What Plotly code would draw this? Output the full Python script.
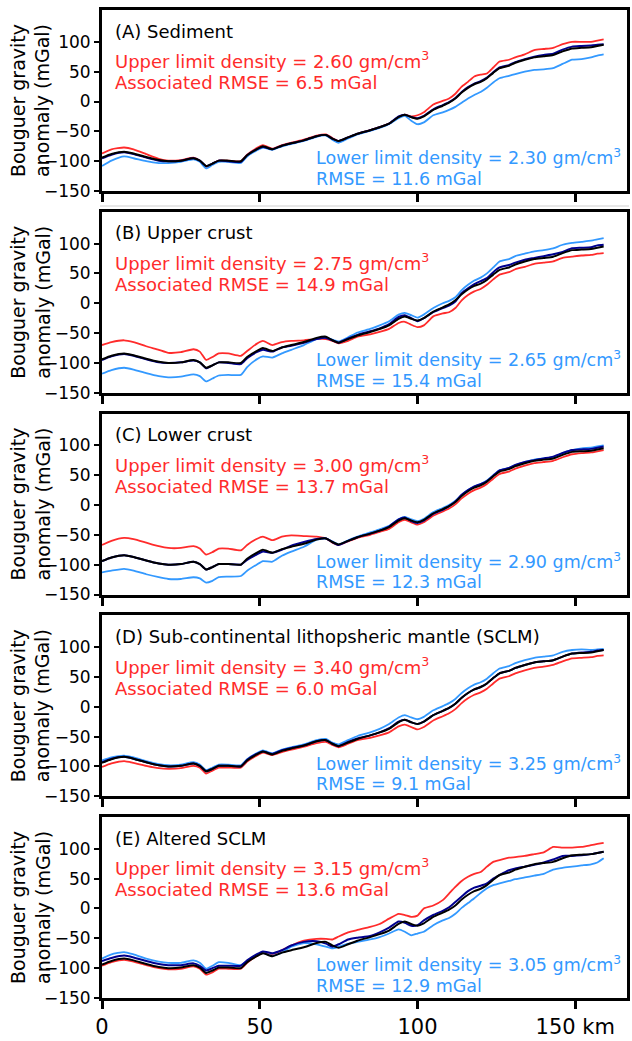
import plotly.graph_objects as go

# Distance along the profile (km)
DIST_KM = [0, 3, 7, 10, 14, 18, 21, 25, 29, 31,
           33, 35, 37, 40, 44, 46, 49, 51, 54, 57,
           60, 64, 68, 71, 73, 75, 78, 81, 85, 88,
           91, 94, 96, 98, 100, 102, 105, 108, 110, 112,
           114, 116, 118, 120, 122, 124, 126, 129, 131, 134,
           137, 140, 143, 146, 149, 152, 155, 157, 159]

# Observed Bouguer anomaly (mGal), shared by all panels
OBSERVED = [-94, -88, -84, -87, -93, -98, -100, -99, -95, -99,
            -108, -104, -99, -99, -100, -90, -80, -75, -80, -74,
            -70, -65, -58, -56, -62, -66, -60, -54, -48, -43,
            -37, -26, -22, -26, -29, -25, -14, -7, -2, 5,
            15, 23, 29, 33, 39, 48, 56, 60, 65, 70,
            74, 76, 78, 84, 89, 90, 91, 93, 95]

# (A) Sediment
MODEL_A = [-95, -89, -85, -88, -94, -99, -100, -99, -95, -99,
           -108, -104, -99, -100, -101, -90, -80, -76, -80, -74,
           -70, -65, -58, -56, -62, -66, -60, -54, -48, -43,
           -37, -25, -22, -26, -28, -24, -13, -6, -1, 6,
           16, 24, 30, 34, 40, 49, 57, 61, 66, 71,
           75, 78, 80, 87, 92, 93, 94, 95, 96]
UPPER_A = [-87, -80, -77, -80, -88, -96, -99, -98, -94, -99,
           -110, -104, -99, -99, -100, -89, -78, -73, -79, -73,
           -69, -64, -57, -55, -61, -66, -60, -54, -48, -43,
           -37, -26, -22, -25, -23, -18, -5, 1, 5, 13,
           25, 33, 42, 45, 47, 57, 67, 70, 74, 79,
           86, 88, 90, 96, 100, 100, 100, 102, 104]
LOWER_A = [-108, -99, -92, -95, -100, -103, -103, -101, -97, -101,
           -112, -106, -101, -101, -103, -92, -82, -77, -81, -75,
           -71, -66, -59, -57, -64, -69, -62, -55, -49, -44,
           -38, -28, -24, -32, -38, -35, -23, -18, -14, -9,
           -2, 5, 11, 16, 23, 32, 39, 43, 46, 50,
           53, 54, 56, 63, 70, 71, 74, 77, 79]

# (B) Upper crust
MODEL_B = [-95, -89, -85, -88, -94, -99, -100, -99, -96, -99,
           -109, -104, -99, -100, -102, -92, -82, -78, -81, -74,
           -71, -66, -60, -58, -62, -66, -59, -53, -47, -42,
           -35, -23, -20, -25, -30, -25, -15, -8, -4, 3,
           17, 25, 32, 37, 42, 52, 60, 64, 68, 73,
           76, 79, 82, 86, 92, 93, 94, 97, 98]
UPPER_B = [-70, -65, -62, -65, -72, -78, -83, -82, -77, -81,
           -95, -90, -84, -84, -88, -80, -68, -63, -70, -65,
           -63, -62, -60, -60, -63, -67, -63, -56, -52, -48,
           -43, -33, -31, -36, -40, -37, -22, -17, -15, -8,
           5, 14, 20, 24, 31, 40, 48, 52, 57, 61,
           66, 68, 70, 76, 78, 80, 81, 83, 84]
LOWER_B = [-118, -112, -108, -111, -117, -122, -124, -123, -119, -122,
           -131, -126, -121, -120, -120, -107, -94, -89, -91, -84,
           -78, -70, -60, -57, -61, -64, -57, -49, -43, -37,
           -30, -19, -16, -20, -24, -19, -8, 0, 4, 10,
           22, 31, 38, 43, 50, 60, 70, 74, 79, 83,
           87, 89, 92, 98, 101, 103, 105, 107, 109]

# (C) Lower crust
MODEL_C = [-94, -88, -84, -87, -93, -98, -100, -99, -95, -99,
           -108, -104, -99, -99, -100, -92, -83, -78, -80, -75,
           -68, -62, -57, -56, -62, -67, -60, -54, -48, -43,
           -36, -24, -21, -27, -30, -26, -15, -8, -2, 6,
           17, 25, 31, 35, 40, 49, 58, 62, 67, 72,
           75, 78, 81, 87, 92, 93, 94, 96, 98]
UPPER_C = [-67, -60, -55, -57, -63, -69, -72, -72, -69, -73,
           -83, -79, -73, -73, -76, -67, -57, -53, -59, -53,
           -51, -52, -53, -56, -63, -67, -61, -55, -50, -45,
           -40, -29, -25, -29, -33, -29, -18, -11, -6, 1,
           11, 19, 25, 29, 35, 44, 52, 56, 61, 66,
           70, 72, 74, 80, 85, 87, 88, 90, 92]
LOWER_C = [-113, -110, -107, -110, -116, -121, -124, -124, -121, -123,
           -130, -127, -121, -120, -119, -110, -100, -94, -95, -85,
           -78, -70, -58, -56, -61, -66, -59, -53, -46, -41,
           -35, -24, -20, -24, -27, -23, -12, -5, 0, 7,
           17, 25, 31, 35, 41, 50, 58, 62, 67, 72,
           76, 78, 80, 87, 92, 95, 96, 98, 100]

# (D) Sub-continental lithospheric mantle
MODEL_D = [-93, -87, -84, -87, -93, -98, -100, -99, -95, -99,
           -108, -104, -99, -99, -100, -89, -79, -75, -79, -73,
           -69, -65, -58, -56, -62, -66, -59, -53, -48, -43,
           -36, -25, -22, -26, -29, -25, -14, -7, -2, 5,
           15, 23, 29, 33, 39, 48, 56, 60, 65, 70,
           74, 76, 78, 84, 89, 91, 92, 94, 95]
UPPER_D = [-101, -95, -91, -94, -99, -103, -104, -103, -99, -102,
           -112, -107, -102, -102, -102, -92, -82, -77, -81, -76,
           -72, -67, -61, -59, -64, -68, -62, -56, -52, -48,
           -43, -33, -30, -34, -38, -34, -23, -16, -11, -4,
           6, 14, 20, 24, 30, 39, 47, 51, 56, 61,
           65, 67, 70, 76, 81, 82, 83, 85, 86]
LOWER_D = [-90, -85, -82, -85, -91, -96, -98, -97, -93, -97,
           -106, -102, -97, -97, -98, -88, -78, -73, -78, -72,
           -68, -63, -56, -54, -60, -63, -56, -49, -43, -37,
           -29, -18, -14, -18, -21, -17, -6, 1, 6, 13,
           23, 31, 37, 41, 47, 56, 64, 68, 73, 78,
           82, 84, 86, 92, 95, 96, 95, 96, 97]

# (E) Altered SCLM
MODEL_E = [-88, -83, -79, -82, -88, -93, -95, -95, -92, -96,
           -104, -100, -96, -96, -96, -87, -77, -72, -75, -70,
           -62, -56, -55, -59, -64, -60, -52, -49, -46, -40,
           -32, -22, -24, -29, -28, -20, -11, -4, 2, 11,
           20, 29, 35, 38, 42, 50, 56, 64, 67, 70,
           73, 77, 82, 88, 88, 89, 91, 93, 95]
UPPER_E = [-96, -90, -86, -89, -95, -100, -102, -101, -97, -101,
           -111, -107, -101, -101, -101, -91, -80, -75, -77, -70,
           -62, -54, -51, -51, -52, -47, -40, -36, -31, -26,
           -17, -9, -11, -14, -12, 0, 5, 14, 25, 36,
           46, 53, 58, 61, 70, 78, 81, 85, 86, 88,
           91, 94, 103, 102, 102, 103, 106, 108, 110]
LOWER_E = [-84, -77, -73, -77, -84, -89, -91, -91, -87, -91,
           -101, -96, -90, -91, -95, -88, -79, -75, -79, -74,
           -64, -58, -60, -64, -67, -64, -59, -56, -52, -48,
           -42, -35, -39, -45, -42, -39, -28, -20, -16, -9,
           1, 9, 17, 26, 34, 39, 42, 46, 49, 52,
           55, 58, 65, 68, 70, 72, 74, 77, 84]

PANEL_TITLES = ["(A) Sediment", "(B) Upper crust", "(C) Lower crust",
                "(D) Sub-continental lithopsheric mantle (SCLM)",
                "(E) Altered SCLM"]
UPPER_DENSITY = ["2.60", "2.75", "3.00", "3.40", "3.15"]
UPPER_RMSE = ["6.5", "14.9", "13.7", "6.0", "13.6"]
LOWER_DENSITY = ["2.30", "2.65", "2.90", "3.25", "3.05"]
LOWER_RMSE = ["11.6", "15.4", "12.3", "9.1", "12.9"]

MODELS = [MODEL_A, MODEL_B, MODEL_C, MODEL_D, MODEL_E]
UPPERS = [UPPER_A, UPPER_B, UPPER_C, UPPER_D, UPPER_E]
LOWERS = [LOWER_A, LOWER_B, LOWER_C, LOWER_D, LOWER_E]

Y_TICKS = [-150, -100, -50, 0, 50, 100]
X_TICKS = [0, 50, 100, 150]
X_TICK_TEXT = ["0", "50", "100", "150 km"]

# ---- styling / geometry ----
W, H = 632, 1041
M_L, M_R, M_T, M_B = 102, 2, 10, 38
PLOT_W = W - M_L - M_R
PLOT_H = H - M_T - M_B
X_RANGE = [0, 166.4]
Y_RANGE = [-150, 153]
PANEL_TOP0 = 10.2
PANEL_STEP = 202.75
PANEL_H = 181.8

FONT = "DejaVu Sans"
RED = "#ff2b2b"
LIGHT_BLUE = "#3399ff"
NAVY = "#00008f"
BLACK = "#000000"


def px_to_paper_x(px):
    return (px - M_L) / PLOT_W


def px_to_paper_y(py):
    return 1 - (py - M_T) / PLOT_H


fig = go.Figure()
annotations = []
layout_axes = {}

for i in range(5):
    sfx = "" if i == 0 else str(i + 1)
    xa, ya = "x" + sfx, "y" + sfx
    top = PANEL_TOP0 + PANEL_STEP * i
    bottom = top + PANEL_H
    dom = [px_to_paper_y(bottom), px_to_paper_y(top)]

    for ys, col, w in ((UPPERS[i], RED, 1.8), (LOWERS[i], LIGHT_BLUE, 1.8),
                       (MODELS[i], NAVY, 2.0), (OBSERVED, BLACK, 2.0)):
        fig.add_trace(go.Scatter(
            x=DIST_KM, y=ys, mode="lines", xaxis=xa, yaxis=ya,
            line=dict(color=col, width=w, shape="spline", smoothing=0.5),
            showlegend=False, hoverinfo="skip"))

    last = i == 4
    layout_axes["xaxis" + sfx] = dict(
        domain=[0, 1], anchor=ya, range=X_RANGE, showgrid=False, zeroline=False,
        showline=True, linecolor=BLACK, linewidth=3, mirror=True,
        ticks="outside", ticklen=8, tickwidth=2.5, tickcolor=BLACK,
        tickvals=X_TICKS, ticktext=X_TICK_TEXT, showticklabels=last,
        tickfont=dict(family=FONT, size=21, color=BLACK))
    layout_axes["yaxis" + sfx] = dict(
        domain=dom, anchor=xa, range=Y_RANGE, showgrid=False, zeroline=False,
        showline=True, linecolor=BLACK, linewidth=3, mirror=True,
        ticks="outside", ticklen=5, tickwidth=2, tickcolor=BLACK,
        tickvals=Y_TICKS, tickfont=dict(family=FONT, size=17, color=BLACK))

    # y-axis title
    annotations.append(dict(
        text="Bouguer gravity<br>anomaly (mGal)", textangle=-90,
        xref="paper", yref="paper", x=px_to_paper_x(30),
        y=px_to_paper_y((top + bottom) / 2), xanchor="center", yanchor="middle",
        showarrow=False, font=dict(family=FONT, size=19, color=BLACK)))

    # panel labels: (text, colour, left px, offset below panel top, size)
    texts = [
        (PANEL_TITLES[i], BLACK, 113, 21, 18),
        ("Upper limit density = %s gm/cm<sup>3</sup>" % UPPER_DENSITY[i], RED, 113, 50.5, 18),
        ("Associated RMSE = %s mGal" % UPPER_RMSE[i], RED, 113, 73, 18),
        ("Lower limit density = %s gm/cm<sup>3</sup>" % LOWER_DENSITY[i], LIGHT_BLUE, 315, 148, 17.5),
        ("RMSE = %s mGal" % LOWER_RMSE[i], LIGHT_BLUE, 315, 169.5, 17.5),
    ]
    for txt, col, xpx, dy, fs in texts:
        annotations.append(dict(
            text=txt, xref="paper", yref="paper",
            x=px_to_paper_x(xpx), y=px_to_paper_y(top + dy),
            xanchor="left", yanchor="middle", showarrow=False,
            font=dict(family=FONT, size=fs, color=col)))

fig.update_layout(
    width=W, height=H, autosize=False,
    margin=dict(l=M_L, r=M_R, t=M_T, b=M_B, pad=0),
    paper_bgcolor="white", plot_bgcolor="white",
    annotations=annotations,
    shapes=[dict(type="line", xref="paper", yref="paper",
                 x0=px_to_paper_x(100), x1=px_to_paper_x(632),
                 y0=px_to_paper_y(207), y1=px_to_paper_y(207),
                 line=dict(color="#cfcfcf", width=1))],
    **layout_axes)

fig.write_html("out.html")
